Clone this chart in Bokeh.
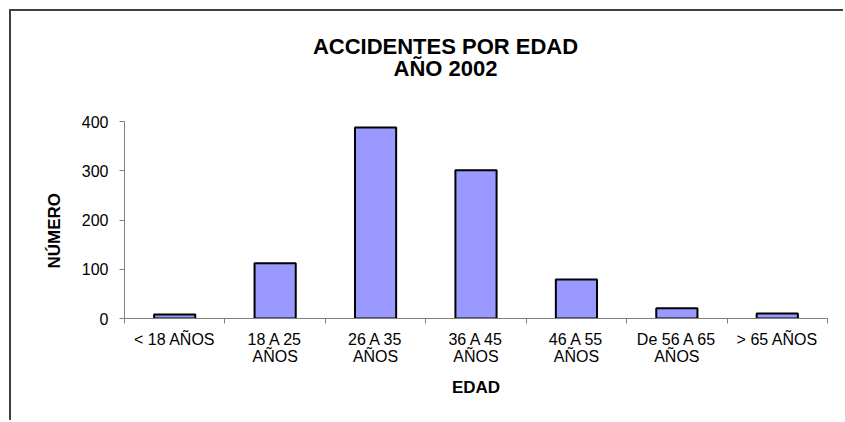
from bokeh.plotting import figure
from bokeh.models import Range1d, FixedTicker, Label, Title
from bokeh.embed import file_html
from bokeh.resources import INLINE

# ---- data ----
title_lines = ["ACCIDENTES POR EDAD", "AÑO 2002"]
categories = ["< 18 AÑOS", "18 A 25\nAÑOS", "26 A 35\nAÑOS", "36 A 45\nAÑOS",
              "46 A 55\nAÑOS", "De 56 A 65\nAÑOS", "> 65 AÑOS"]
values = [8, 112, 388, 301, 79, 21, 10]
y_ticks = [0, 100, 200, 300, 400]
x_title = "EDAD"
y_title = "NÚMERO"

FONT = "Liberation Sans"
n = len(categories)
centers = [i + 0.5 for i in range(n)]
bounds = list(range(n + 1))

# layout (canvas pixels)
W, H = 834, 411
frame_h = 307          # frame spans canvas 0..307 vertically
axis_top_px = 110      # canvas y where the top tick sits
y_end = y_ticks[-1] * frame_h / (frame_h - axis_top_px)

p = figure(width=W, height=H, output_backend="svg", toolbar_location=None,
           x_range=Range1d(0, n), y_range=Range1d(0, y_end),
           min_border_left=113, min_border_right=18,
           min_border_top=0, min_border_bottom=H - frame_h)
p.styles = {"border-top": "2px solid #404040", "border-left": "2px solid #404040",
            "margin-left": "9px", "margin-top": "9px"}
p.outline_line_color = None
p.grid.visible = False
p.background_fill_color = "white"
p.border_fill_color = "white"

p.vbar(x=centers, top=values, bottom=0, width=0.41,
       fill_color="#9999FF", line_color="black", line_width=2)

for ax in (p.xaxis[0], p.yaxis[0]):
    ax.axis_line_color = "#808080"
    ax.axis_line_width = 1
    ax.major_label_text_font = FONT
    ax.major_label_text_font_size = "16px"
    ax.major_label_text_color = "black"
    ax.axis_label_text_font = FONT
    ax.axis_label_text_font_size = "17px"
    ax.axis_label_text_font_style = "bold"
    ax.axis_label_text_color = "black"

xa = p.xaxis[0]
xa.ticker = FixedTicker(ticks=centers, minor_ticks=bounds)
xa.major_label_overrides = {c: lab for c, lab in zip(centers, categories)}
xa.major_label_text_line_height = 1.0
xa.major_tick_line_color = None
xa.major_tick_out = 5
xa.major_tick_in = 0
xa.minor_tick_line_color = "#808080"
xa.minor_tick_out = 5
xa.minor_tick_in = 0
xa.major_label_standoff = 7
xa.axis_label = x_title
xa.axis_label_standoff = 10

ya = p.yaxis[0]
ya.ticker = FixedTicker(ticks=y_ticks)
ya.bounds = (y_ticks[0], y_ticks[-1])
ya.major_tick_line_color = "#808080"
ya.major_tick_out = 5
ya.major_tick_in = 0
ya.minor_tick_line_color = None
ya.major_label_standoff = 11

# y-axis title, placed alongside the bounded axis
p.add_layout(Title(text=y_title, align="left", offset=50, standoff=30,
                   vertical_align="bottom", text_font=FONT, text_font_size="17px",
                   text_font_style="bold", text_color="black"), "left")

for text, yy in zip(title_lines, [271.7, 250]):
    p.add_layout(Label(x=321, y=yy, x_units="screen", y_units="screen", text=text,
                       text_align="center", text_baseline="alphabetic",
                       text_font=FONT, text_font_size="22px", text_font_style="bold",
                       text_color="black"))

open("out.html", "w").write(file_html(p, INLINE))
